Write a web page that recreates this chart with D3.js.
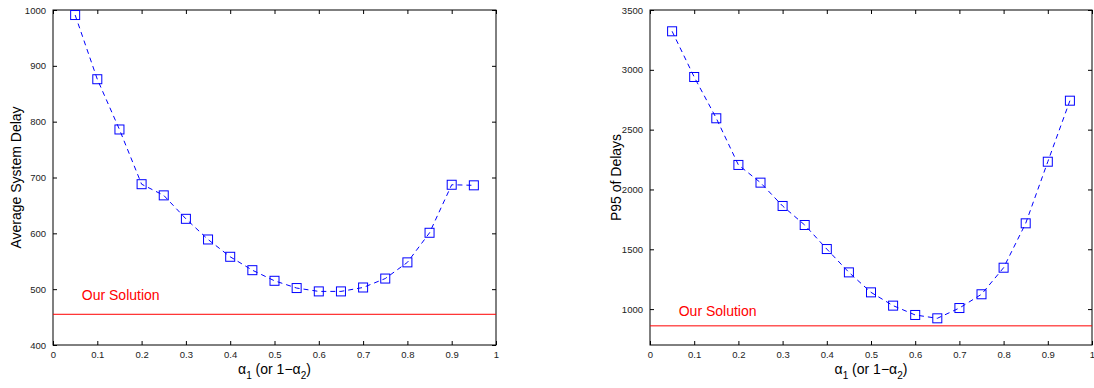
<!DOCTYPE html>
<html>
<head>
<meta charset="utf-8">
<script src="https://cdn.jsdelivr.net/npm/d3@7"></script>
<style>
  body { margin: 0; background: #fff; }
  text { font-family: "Liberation Sans", Arial, sans-serif; }
</style>
</head>
<body>
<script>
// alpha_1 values shared by both panels
const alphas = [0.05, 0.1, 0.15, 0.2, 0.25, 0.3, 0.35, 0.4, 0.45, 0.5, 0.55, 0.6, 0.65, 0.7, 0.75, 0.8, 0.85, 0.9, 0.95];
const avgDelay = [991, 876, 786, 688, 668, 626, 589, 558, 534, 515, 502, 496, 496, 503, 519, 548, 601, 687, 686];
const p95Delay = [3322, 2940, 2595, 2205, 2057, 1862, 1703, 1502, 1307, 1140, 1029, 951, 923, 1009, 1124, 1346, 1717, 2232, 2742];
const ourAvg = 455;
const ourP95 = 860;
const xTicks = [0, 0.1, 0.2, 0.3, 0.4, 0.5, 0.6, 0.7, 0.8, 0.9, 1];
const avgTicks = [400, 500, 600, 700, 800, 900, 1000];
const p95Ticks = [1000, 1500, 2000, 2500, 3000, 3500];

const W = 1094, H = 388;
const svg = d3.select("body").append("svg").attr("width", W).attr("height", H);

function panel(p) {
  const x = d3.scaleLinear().domain([0, 1]).range([p.left, p.right]);
  const y = d3.scaleLinear().domain(p.yDomain).range([345, 10]);
  const g = svg.append("g");

  // box
  g.append("rect")
    .attr("x", p.left).attr("y", 10)
    .attr("width", p.right - p.left).attr("height", 335)
    .attr("fill", "none").attr("stroke", "#000").attr("stroke-width", 1);

  // ticks inside on all four sides (matlab style)
  const tl = 4;
  g.append("g").attr("transform", `translate(0,345)`)
    .call(d3.axisBottom(x).tickValues(xTicks).tickSize(-tl).tickPadding(6).tickFormat(d3.format("")));
  g.append("g").attr("transform", `translate(0,10)`)
    .call(d3.axisTop(x).tickValues(xTicks).tickSize(-tl).tickFormat(""));
  g.append("g").attr("transform", `translate(${p.left},0)`)
    .call(d3.axisLeft(y).tickValues(p.yTicks).tickSize(-tl).tickPadding(7).tickFormat(d3.format("")));
  g.append("g").attr("transform", `translate(${p.right},0)`)
    .call(d3.axisRight(y).tickValues(p.yTicks).tickSize(-tl).tickFormat(""));
  g.selectAll(".domain").remove();
  g.selectAll(".tick line").attr("stroke", "#000");
  g.selectAll(".tick text").attr("font-size", 9.5).attr("fill", "#222")
    .attr("font-family", "'Liberation Sans', Arial, sans-serif");

  // our solution reference line
  g.append("line")
    .attr("x1", p.left).attr("x2", p.right)
    .attr("y1", y(p.ours)).attr("y2", y(p.ours))
    .attr("stroke", "#f00").attr("stroke-width", 1);
  g.append("text")
    .attr("x", x(0.065)).attr("y", p.labelY)
    .attr("font-size", 14).attr("fill", "#f00")
    .text("Our Solution");

  // dashed series
  const line = d3.line().x((d, i) => x(alphas[i])).y(d => y(d));
  g.append("path").datum(p.values)
    .attr("d", line).attr("fill", "none")
    .attr("stroke", "#00f").attr("stroke-width", 1)
    .attr("stroke-dasharray", "5,4");

  const s = 9;
  g.selectAll("rect.m").data(p.values).join("rect")
    .attr("class", "m")
    .attr("x", (d, i) => x(alphas[i]) - s / 2)
    .attr("y", d => y(d) - s / 2)
    .attr("width", s).attr("height", s)
    .attr("fill", "none").attr("stroke", "#00f").attr("stroke-width", 1);

  // x label: alpha_1 (or 1-alpha_2)
  const xl = g.append("text")
    .attr("x", (p.left + p.right) / 2).attr("y", 374)
    .attr("text-anchor", "middle").attr("font-size", 14).attr("fill", "#000");
  xl.append("tspan").text("α");
  xl.append("tspan").attr("dy", 5).attr("font-size", 10).text("1");
  xl.append("tspan").attr("dy", -5).text(" (or 1−α");
  xl.append("tspan").attr("dy", 5).attr("font-size", 10).text("2");
  xl.append("tspan").attr("dy", -5).text(")");

  // y label
  g.append("text")
    .attr("transform", `translate(${p.yLabelX},${(10 + 345) / 2}) rotate(-90)`)
    .attr("text-anchor", "middle").attr("font-size", 14).attr("fill", "#000")
    .text(p.yLabel);
}

panel({
  left: 53, right: 496, yDomain: [400, 1000], yTicks: avgTicks,
  values: avgDelay, ours: ourAvg, labelY: 300,
  yLabel: "Average System Delay", yLabelX: 21
});
panel({
  left: 650, right: 1092, yDomain: [700, 3500], yTicks: p95Ticks,
  values: p95Delay, ours: ourP95, labelY: 316,
  yLabel: "P95 of Delays", yLabelX: 621
});
</script>
</body>
</html>
